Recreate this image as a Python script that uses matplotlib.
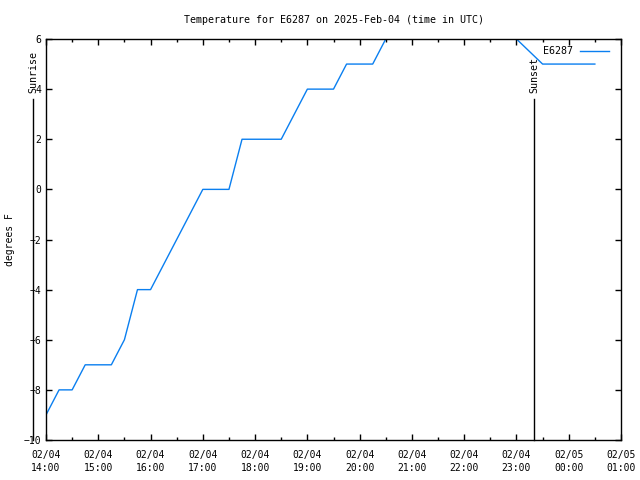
import matplotlib
matplotlib.use("Agg")
import matplotlib.pyplot as plt
import matplotlib.dates as mdates
from datetime import datetime

# temperature readings (UTC)
times = ["2025-02-04 14:00", "2025-02-04 14:15", "2025-02-04 14:30", "2025-02-04 14:45",
         "2025-02-04 15:15", "2025-02-04 15:30", "2025-02-04 15:45", "2025-02-04 16:00",
         "2025-02-04 17:00", "2025-02-04 17:30", "2025-02-04 17:45", "2025-02-04 18:30",
         "2025-02-04 19:00", "2025-02-04 19:30", "2025-02-04 19:45", "2025-02-04 20:15",
         "2025-02-04 20:45", "2025-02-04 22:45", "2025-02-04 23:00", "2025-02-04 23:30",
         "2025-02-05 00:30"]
temps = [-9, -8, -8, -7, -7, -6, -4, -4, 0, 0, 2, 2, 4, 4, 5, 5, 7, 7, 6, 5, 5]

sunrise = "2025-02-04 13:45"
sunset = "2025-02-04 23:20"
xstart = "2025-02-04 14:00"
xend = "2025-02-05 01:00"

def d(s):
    return datetime.strptime(s, "%Y-%m-%d %H:%M")

plt.rcParams['font.family'] = ['DejaVu Sans Mono']
plt.rcParams['font.size'] = 7

fig = plt.figure(figsize=(6.4, 4.8), dpi=100)
ax = fig.add_axes([46/640, 40/480, 575/640, 401/480])

x = [d(t) for t in times]
ax.plot(x, temps, color="#0a7ff0", lw=1, label="E6287")

ax.set_xlim(d(xstart), d(xend))
ax.set_ylim(-10, 6)
ax.set_yticks(range(-10, 7, 2))
ax.xaxis.set_major_locator(mdates.HourLocator())
ax.xaxis.set_minor_locator(mdates.MinuteLocator(byminute=[30]))
ax.xaxis.set_major_formatter(mdates.DateFormatter("%m/%d\n%H:%M"))
ax.tick_params(which="both", direction="in", top=True, right=True, width=1)
ax.tick_params(which="major", length=4)
ax.tick_params(axis="x", which="major", pad=7)
ax.tick_params(which="minor", length=2)
for lbl in ax.get_xticklabels():
    lbl.set_linespacing(1.45)
for s in ax.spines.values():
    s.set_linewidth(1)

# sunrise / sunset markers
for t, txt in [(sunrise, "Sunrise"), (sunset, "Sunset")]:
    ax.plot([d(t), d(t)], [-10, 3.6], color="black", lw=1, clip_on=False)
    ax.text(d(t), 3.85, txt, rotation=90, ha="center", va="bottom", fontsize=7.2)

ax.set_ylabel("degrees F", labelpad=6)
ax.set_title("Temperature for E6287 on 2025-Feb-04 (time in UTC)", fontsize=7.2, pad=11.5)
ax.legend(loc="upper right", bbox_to_anchor=(1 - 5/575, 1), frameon=False,
          markerfirst=False, handlelength=2.9, fontsize=7.2, borderaxespad=0.35,
          handletextpad=0.7)

fig.savefig("out.png", dpi=100)
